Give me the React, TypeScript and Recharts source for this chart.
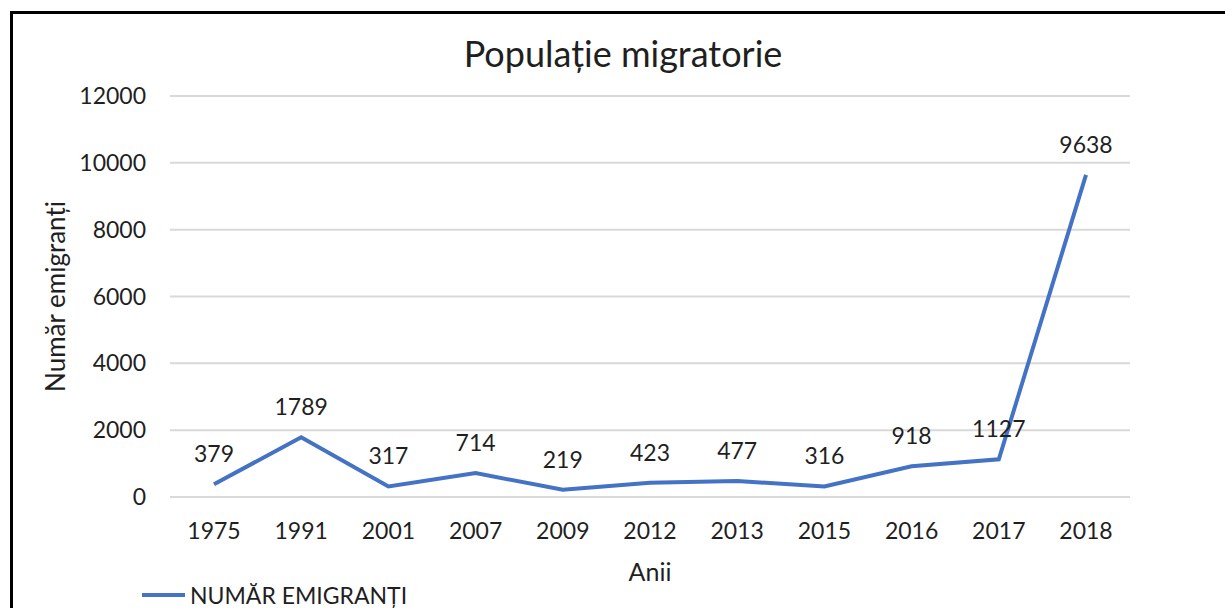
import React from "react";
import { LineChart, Line, XAxis, YAxis, CartesianGrid, LabelList } from "recharts";

const years = ["1975", "1991", "2001", "2007", "2009", "2012", "2013", "2015", "2016", "2017", "2018"];
const emigrants = [379, 1789, 317, 714, 219, 423, 477, 316, 918, 1127, 9638];
const yTicks = [0, 2000, 4000, 6000, 8000, 10000, 12000];

const data = years.map((y, i) => ({ year: y, value: emigrants[i] }));

const FONT = "Lato, 'Open Sans', sans-serif";
const TXT = "#1f1f1f";

export default function App() {
  return (
    <div style={{ position: "fixed", left: 0, top: 0, width: 1225, height: 608, background: "#fff", overflow: "hidden" }}>
      <div style={{ position: "absolute", left: 10, top: 11, width: 1300, height: 700, borderLeft: "3px solid #000", borderTop: "3px solid #000" }} />
      <div style={{ position: "absolute", left: 0, top: 31, width: 1246, textAlign: "center", fontFamily: FONT, fontSize: 36, lineHeight: "44px", color: TXT }}>
        Populație migratorie
      </div>
      <div style={{ position: "absolute", left: 0, top: 0 }}>
        <LineChart width={1225} height={608} data={data} margin={{ top: 96, right: 95, bottom: 21, left: 90 }}>
          <CartesianGrid vertical={false} stroke="#d9d9d9" strokeWidth={2} />
          <XAxis
            dataKey="year"
            axisLine={false}
            tickLine={false}
            tickSize={0}
            tickMargin={26}
            height={90}
            padding={{ left: 44, right: 44 }}
            tick={{ fill: TXT, fontSize: 23, fontFamily: FONT }}
            label={{ value: "Anii", position: "insideBottom", offset: 6, fill: TXT, fontSize: 25, fontFamily: FONT }}
          />
          <YAxis
            domain={[0, 12000]}
            ticks={yTicks}
            axisLine={false}
            tickLine={false}
            tickSize={0}
            tickMargin={24}
            width={80}
            tick={{ fill: TXT, fontSize: 23, fontFamily: FONT }}
            label={{ value: "Număr emigranți", angle: -90, position: "center", dx: -74, fill: TXT, fontSize: 26, fontFamily: FONT }}
          />
          <Line type="linear" dataKey="value" stroke="#4472C4" strokeWidth={4} dot={false} isAnimationActive={false}>
            <LabelList dataKey="value" position="top" offset={22} fill={TXT} fontSize={23} fontFamily={FONT} />
          </Line>
        </LineChart>
      </div>
      <div style={{ position: "absolute", left: 142, top: 582, display: "flex", alignItems: "center", fontFamily: FONT, fontSize: 23, lineHeight: "26px", color: TXT }}>
        <div style={{ width: 43, height: 4, background: "#4472C4", marginRight: 5 }} />
        <span>NUMĂR EMIGRANȚI</span>
      </div>
    </div>
  );
}
